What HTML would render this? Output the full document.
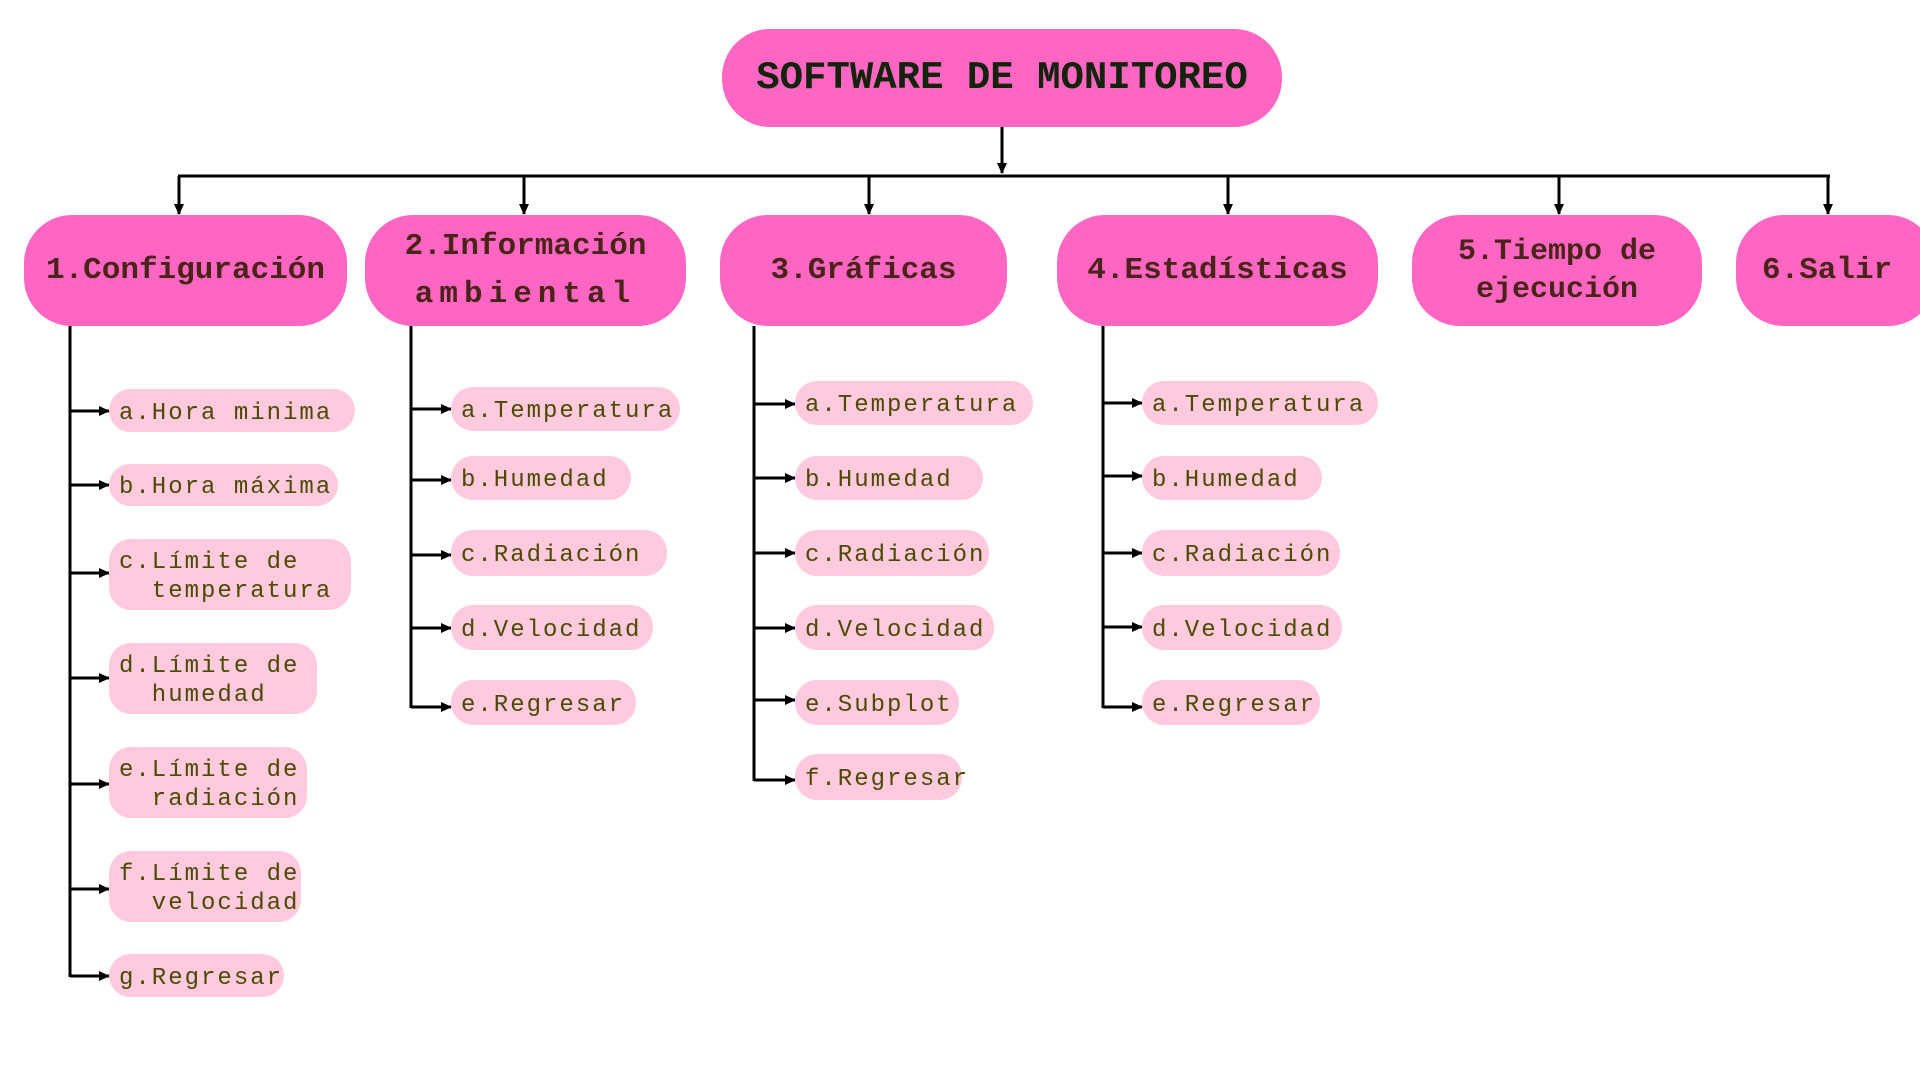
<!DOCTYPE html>
<html><head><meta charset="utf-8"><style>
body{margin:0;width:1920px;height:1080px;background:#fff;position:relative;overflow:hidden;font-family:"Liberation Mono","DejaVu Sans Mono",monospace}
.r{position:absolute;background:#ff66c4;border-radius:48px;display:flex;align-items:center;justify-content:center;text-align:center;font-weight:bold;color:#4a2418;font-size:31px;line-height:46px}
.r>div{display:block}
.s{position:absolute;background:#ffcadd;border-radius:22px;color:#4a4a00;font-size:24px;letter-spacing:2px;display:flex;align-items:center;padding-left:10px;padding-top:5px;box-sizing:border-box;white-space:pre;line-height:29px}
svg{position:absolute;left:0;top:0}
</style></head><body>
<svg width="1920" height="1080">
<defs><marker id="b" markerWidth="12" markerHeight="12" refX="10" refY="6" orient="auto" markerUnits="userSpaceOnUse"><path d="M0,1 L11,6 L0,11z" fill="#000"/></marker></defs>
<g stroke="#000" stroke-width="3" fill="none">
<line x1="1002" y1="127" x2="1002" y2="173" marker-end="url(#b)"/>
<line x1="178" y1="176" x2="1830" y2="176"/>
<line x1="179" y1="176" x2="179" y2="214" marker-end="url(#b)"/>
<line x1="524" y1="176" x2="524" y2="214" marker-end="url(#b)"/>
<line x1="869" y1="176" x2="869" y2="214" marker-end="url(#b)"/>
<line x1="1228" y1="176" x2="1228" y2="214" marker-end="url(#b)"/>
<line x1="1559" y1="176" x2="1559" y2="214" marker-end="url(#b)"/>
<line x1="1828" y1="176" x2="1828" y2="214" marker-end="url(#b)"/>
<line x1="70" y1="326" x2="70" y2="977"/>
<line x1="411" y1="326" x2="411" y2="708"/>
<line x1="754" y1="326" x2="754" y2="781"/>
<line x1="1103" y1="326" x2="1103" y2="708"/>
</g>
<g stroke="#000" stroke-width="3" marker-end="url(#b)">
<line x1="70" y1="411" x2="109" y2="411"/><line x1="70" y1="485" x2="109" y2="485"/><line x1="70" y1="573" x2="109" y2="573"/><line x1="70" y1="678" x2="109" y2="678"/><line x1="70" y1="784" x2="109" y2="784"/><line x1="70" y1="889" x2="109" y2="889"/><line x1="70" y1="976" x2="109" y2="976"/>
<line x1="411" y1="409" x2="451" y2="409"/><line x1="411" y1="480" x2="451" y2="480"/><line x1="411" y1="555" x2="451" y2="555"/><line x1="411" y1="628" x2="451" y2="628"/><line x1="411" y1="707" x2="451" y2="707"/>
<line x1="754" y1="404" x2="795" y2="404"/><line x1="754" y1="478" x2="795" y2="478"/><line x1="754" y1="553" x2="795" y2="553"/><line x1="754" y1="628" x2="795" y2="628"/><line x1="754" y1="700" x2="795" y2="700"/><line x1="754" y1="780" x2="795" y2="780"/>
<line x1="1103" y1="403" x2="1142" y2="403"/><line x1="1103" y1="476" x2="1142" y2="476"/><line x1="1103" y1="553" x2="1142" y2="553"/><line x1="1103" y1="627" x2="1142" y2="627"/><line x1="1103" y1="707" x2="1142" y2="707"/>
</g>
</svg>
<div class="r" style="left:722px;top:29px;width:560px;height:98px;font-size:39px;color:#13230c">SOFTWARE DE MONITOREO</div>
<div class="r" style="left:24px;top:215px;width:323px;height:111px">1.Configuración</div>
<div class="r" style="left:365px;top:215px;width:321px;height:111px;line-height:48px"><div>2.Información<br><span style="letter-spacing:6px">ambiental</span></div></div>
<div class="r" style="left:720px;top:215px;width:287px;height:111px">3.Gráficas</div>
<div class="r" style="left:1057px;top:215px;width:321px;height:111px">4.Estadísticas</div>
<div class="r" style="left:1412px;top:215px;width:290px;height:111px;font-size:30px;line-height:38px"><div>5.Tiempo de<br>ejecución</div></div>
<div class="r" style="left:1736px;top:215px;width:200px;height:111px;justify-content:flex-start;padding-left:26px;box-sizing:border-box">6.Salir</div>

<div class="s" style="left:109px;top:389px;width:246px;height:43px">a.Hora minima</div>
<div class="s" style="left:109px;top:464px;width:229px;height:42px">b.Hora máxima</div>
<div class="s" style="left:109px;top:539px;width:242px;height:71px">c.Límite de
  temperatura</div>
<div class="s" style="left:109px;top:643px;width:208px;height:71px">d.Límite de
  humedad</div>
<div class="s" style="left:109px;top:747px;width:198px;height:71px">e.Límite de
  radiación</div>
<div class="s" style="left:109px;top:851px;width:192px;height:71px">f.Límite de
  velocidad</div>
<div class="s" style="left:109px;top:954px;width:175px;height:43px">g.Regresar</div>

<div class="s" style="left:451px;top:387px;width:229px;height:44px">a.Temperatura</div>
<div class="s" style="left:451px;top:456px;width:180px;height:44px">b.Humedad</div>
<div class="s" style="left:451px;top:530px;width:216px;height:46px">c.Radiación</div>
<div class="s" style="left:451px;top:605px;width:202px;height:45px">d.Velocidad</div>
<div class="s" style="left:451px;top:680px;width:185px;height:45px">e.Regresar</div>

<div class="s" style="left:795px;top:381px;width:238px;height:44px">a.Temperatura</div>
<div class="s" style="left:795px;top:456px;width:188px;height:44px">b.Humedad</div>
<div class="s" style="left:795px;top:530px;width:194px;height:46px">c.Radiación</div>
<div class="s" style="left:795px;top:605px;width:199px;height:45px">d.Velocidad</div>
<div class="s" style="left:795px;top:680px;width:164px;height:45px">e.Subplot</div>
<div class="s" style="left:795px;top:754px;width:167px;height:46px">f.Regresar</div>

<div class="s" style="left:1142px;top:381px;width:236px;height:44px">a.Temperatura</div>
<div class="s" style="left:1142px;top:456px;width:180px;height:44px">b.Humedad</div>
<div class="s" style="left:1142px;top:530px;width:198px;height:46px">c.Radiación</div>
<div class="s" style="left:1142px;top:605px;width:200px;height:45px">d.Velocidad</div>
<div class="s" style="left:1142px;top:680px;width:178px;height:45px">e.Regresar</div>
</body></html>
